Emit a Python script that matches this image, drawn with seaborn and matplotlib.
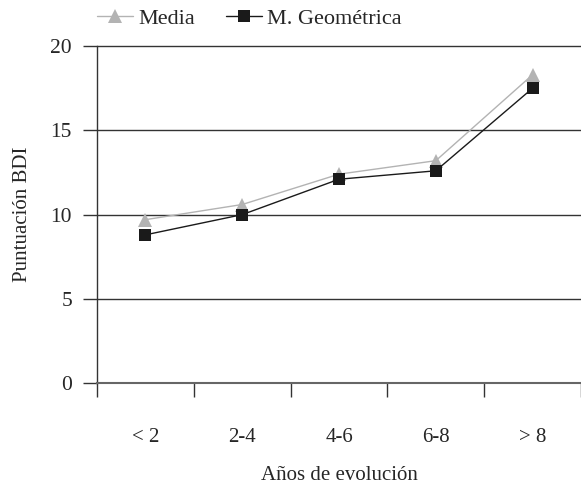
import numpy as np
import pandas as pd
import matplotlib.pyplot as plt
import seaborn as sns

# data
categorias = ['< 2', '2-4', '4-6', '6-8', '> 8']
media = [9.7, 10.6, 12.4, 13.2, 18.3]
m_geometrica = [8.8, 10.0, 12.1, 12.6, 17.5]

sns.set_style('white')
plt.rcParams['font.family'] = ['Liberation Serif', 'DejaVu Serif']

fig = plt.figure(figsize=(5.81, 4.9), dpi=100)
ax = fig.add_axes([0.167, 0.218, 0.833, 0.688])

x = np.arange(len(categorias))
sns.lineplot(x=x, y=media, ax=ax, color='#b3b3b3', marker='^', markersize=10,
             markeredgewidth=0, linewidth=1.0, label='Media')
sns.lineplot(x=x, y=m_geometrica, ax=ax, color='#1a1a1a', marker='s', markersize=8.5,
             markeredgewidth=0, linewidth=1.0, label='M. Geométrica')

#gridlines
for v in [5, 10, 15, 20]:
    ax.axhline(v, color='#333333', linewidth=1.0, zorder=0, clip_on=False)

ax.set_xlim(-0.5, len(categorias) - 0.5)
ax.set_ylim(0, 20)
ax.set_yticks([0, 5, 10, 15, 20])
ax.tick_params(axis='y', left=True, length=10, width=1.0, color='#333333', labelsize=15.5, pad=8)

# category boundaries as ticks, labels on minor ticks
ax.set_xticks(np.arange(-0.5, len(categorias) - 0.4, 1.0))
ax.set_xticklabels([])
ax.set_xticks(x, minor=True)
ax.set_xticklabels(categorias, minor=True)
ax.tick_params(axis='x', which='major', bottom=True, length=10, width=1.0, color='#333333', direction='out')
ax.tick_params(axis='x', which='minor', bottom=True, length=0, labelsize=15, pad=32)

for s in ['top', 'right']:
    ax.spines[s].set_visible(False)
ax.spines['left'].set_color('#333333')
ax.spines['bottom'].set_color('#666666')
ax.spines['left'].set_linewidth(1.0)
ax.spines['bottom'].set_linewidth(1.5)

ax.set_xlabel('Años de evolución', fontsize=15, labelpad=14)
ax.set_ylabel('Puntuación BDI', fontsize=15, labelpad=13)

ax.legend(loc='lower left', bbox_to_anchor=(0.0, 1.05), ncol=2, frameon=False,
          fontsize=16, handlelength=1.6, handletextpad=0.25, columnspacing=1.4,
          borderaxespad=0, borderpad=0)

fig.savefig('out.png', dpi=100)
